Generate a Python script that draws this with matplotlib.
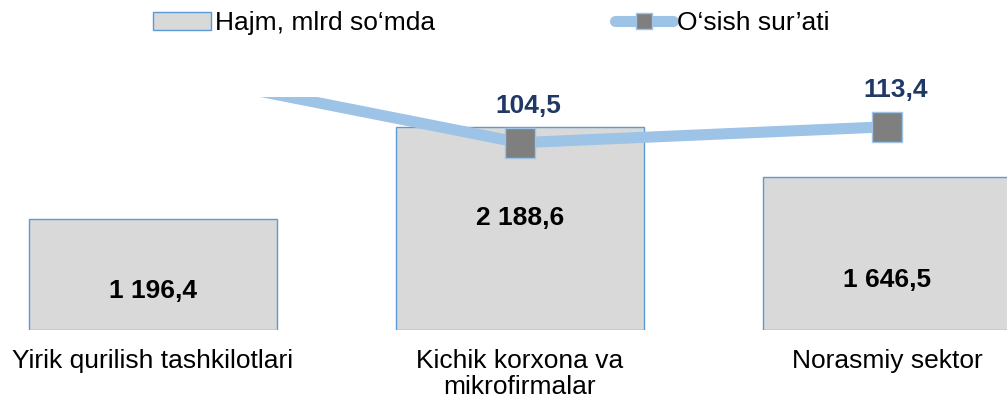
import matplotlib.pyplot as plt
from matplotlib.patches import Patch
from matplotlib.lines import Line2D

plt.rcParams['font.family'] = ['Liberation Sans', 'DejaVu Sans']

categories = ['Yirik qurilish tashkilotlari', 'Kichik korxona va\nmikrofirmalar', 'Norasmiy sektor']
hajm = [1196.4, 2188.6, 1646.5]
hajm_labels = ['1 196,4', '2 188,6', '1 646,5']
osish = [145.0, 104.5, 113.4]
osish_labels = ['145,0', '104,5', '113,4']

# where the volume labels sit inside the bars (baseline, data units)
value_label_y = [345, 1131, 463]

bar_color = '#D9D9D9'
edge_color = '#5B9BD5'
line_color = '#9DC3E6'
marker_color = '#7F7F7F'
fs = 19

fig = plt.figure(figsize=(10.07, 4.03), dpi=100)
ax = fig.add_axes([0, 73 / 403, 1, 233 / 403])

x = list(range(len(categories)))
ax.bar(x, hajm, width=0.676, color=bar_color, edgecolor=edge_color, linewidth=1)
ax.set_xlim(-153 / 367, (1007 - 153) / 367)
ax.set_ylim(0, 2511)
for i in x:
    ax.text(i, value_label_y[i], hajm_labels[i], ha='center', va='baseline',
            fontsize=fs, fontweight='bold', color='black')

ax.set_xticks(x)
ax.set_xticklabels(categories, fontsize=fs, linespacing=1.1)
ax.tick_params(axis='x', length=0, pad=14)
ax.set_yticks([])
for s in ax.spines.values():
    s.set_visible(False)

ax2 = ax.twinx()
ax2.set_ylim(0, 130)
ax2.plot(x, osish, color=line_color, linewidth=8, marker='s', markersize=21,
         markerfacecolor=marker_color, markeredgecolor=line_color, markeredgewidth=1)
for i in x:
    if osish[i] <= 130:
        ax2.annotate(osish_labels[i], (i, osish[i]), xytext=(6, 21.6),
                     textcoords='offset points', ha='center', va='baseline',
                     fontsize=fs, fontweight='bold', color='#1F3864')
ax2.set_yticks([])
for s in ax2.spines.values():
    s.set_visible(False)

handles = [
    Patch(facecolor=bar_color, edgecolor=edge_color, linewidth=1),
    Line2D([], [], color=line_color, linewidth=8, marker='s', markersize=11,
           markerfacecolor=marker_color, markeredgecolor=line_color,
           solid_capstyle='round'),
]
fig.legend(handles, ['Hajm, mlrd so\u2018mda', 'O\u2018sish sur\u2019ati'],
           loc='upper left', bbox_to_anchor=(153 / 1007, 1 - 11 / 403), ncol=2,
           frameon=False, fontsize=fs, borderpad=0, borderaxespad=0,
           handlelength=2.2, handletextpad=0.15, columnspacing=6.8)

fig.savefig('out.png', dpi=100)
